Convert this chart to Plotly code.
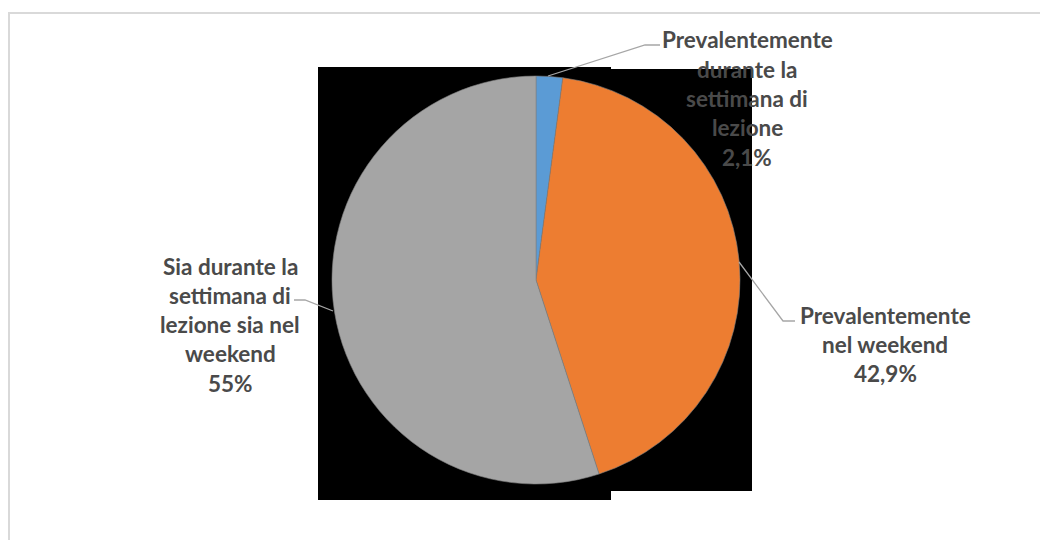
import plotly.graph_objects as go

# ---- data ----
categories = [
    "Prevalentemente durante la settimana di lezione",
    "Prevalentemente nel weekend",
    "Sia durante la settimana di lezione sia nel weekend",
]
values = [2.1, 42.9, 55.0]
value_labels = ["2,1%", "42,9%", "55%"]
label_lines = [
    ["Prevalentemente", "durante la", "settimana di", "lezione"],
    ["Prevalentemente", "nel weekend"],
    ["Sia durante la", "settimana di", "lezione sia nel", "weekend"],
]
colors = ["#5B9BD5", "#ED7D31", "#A5A5A5"]

W, H = 1048, 540
OFF = 8  # page body margin


def px(x):
    return (x - OFF) / W


def py(y):
    return 1 - (y - OFF) / H


cx, cy, r = 536, 280, 204

fig = go.Figure()
fig.add_trace(go.Pie(
    labels=categories,
    values=values,
    sort=False,
    direction="clockwise",
    rotation=0,
    marker=dict(colors=colors, line=dict(color="#7f7f7f", width=0.6)),
    textinfo="none",
    hoverinfo="label+percent",
    showlegend=False,
    domain=dict(x=[px(cx - r), px(cx + r)], y=[py(cy + r), py(cy - r)]),
))

shapes = []
# chart border
shapes.append(dict(type="rect", xref="paper", yref="paper",
                   x0=px(9), x1=px(1070), y0=py(570), y1=py(13),
                   line=dict(color="#D9D9D9", width=2), fillcolor="rgba(0,0,0,0)", layer="below"))
# black backgrounds
shapes.append(dict(type="rect", xref="paper", yref="paper",
                   x0=px(318), x1=px(611), y0=py(500), y1=py(67),
                   line=dict(width=0), fillcolor="black", layer="below"))
shapes.append(dict(type="rect", xref="paper", yref="paper",
                   x0=px(610), x1=px(752), y0=py(491), y1=py(69),
                   line=dict(width=0), fillcolor="black", layer="below"))


def leader(points):
    path = "M " + " L ".join(f"{px(a)},{py(b)}" for a, b in points)
    return dict(type="path", xref="paper", yref="paper", path=path,
                line=dict(color="#A6A6A6", width=1.3), layer="above")


shapes.append(leader([(548, 76), (645, 45), (660, 45)]))
shapes.append(leader([(739, 262), (783, 321), (795, 321)]))
shapes.append(leader([(294, 300), (305, 300), (333, 311)]))

annotations = []
label_pos = [(747, 40), (885, 315), (230, 266)]
spacing = 29.3
for (x0, y0), lines, val in zip(label_pos, label_lines, value_labels):
    for i, t in enumerate(lines + [val]):
        annotations.append(dict(
            x=px(x0), y=py(y0 + i * spacing), xref="paper", yref="paper",
            text=f"<b>{t}</b>", showarrow=False, xanchor="center", yanchor="middle",
            font=dict(family="Lato, Open Sans, sans-serif", size=22.5, color="#4a4a4a"),
        ))

fig.update_layout(
    width=W, height=H,
    margin=dict(l=0, r=0, t=0, b=0),
    paper_bgcolor="white",
    plot_bgcolor="white",
    shapes=shapes,
    annotations=annotations,
)

fig.write_html("out.html")
